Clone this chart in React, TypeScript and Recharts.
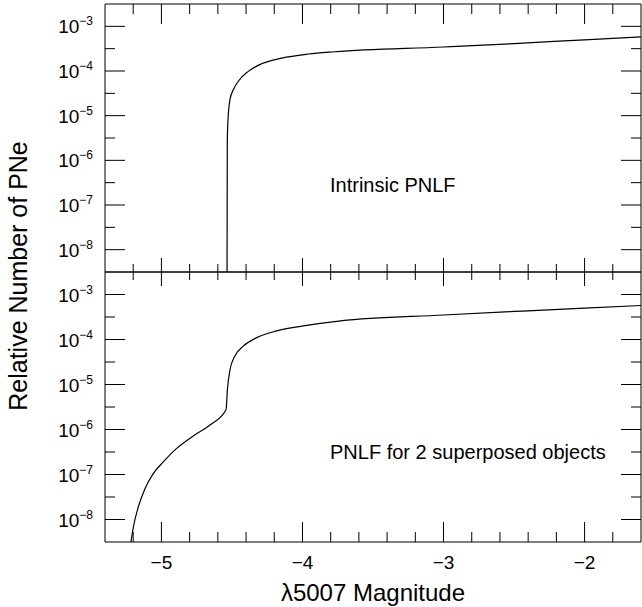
import React from "react";
import { LineChart, Line, XAxis, YAxis } from "recharts";

// values (magnitude, relative number)
const intrinsicMag = [-4.535, -4.533, -4.528, -4.514, -4.49, -4.455, -4.384, -4.29, -4.147, -3.958, -3.77, -3.0, -2.5, -2.0, -1.6];
const intrinsicN = [1e-9, 2.5e-6, 8.1e-6, 2.3e-5, 3.8e-5, 5.9e-5, 9.8e-5, 1.45e-4, 1.95e-4, 2.4e-4, 2.7e-4, 3.45e-4, 4.1e-4, 5.0e-4, 5.8e-4];

const superMag = [-5.225, -5.199, -5.164, -5.116, -5.058, -4.987, -4.892, -4.774, -4.656, -4.542, -4.532, -4.514, -4.479, -4.42, -4.325, -4.183, -3.994, -3.73, -3.0, -2.5, -2.0, -1.6];
const superN = [2e-9, 6.8e-9, 1.9e-8, 4.9e-8, 1.05e-7, 1.9e-7, 3.8e-7, 7.2e-7, 1.26e-6, 2.75e-6, 7.8e-6, 2.1e-5, 4.3e-5, 7.1e-5, 1.1e-4, 1.55e-4, 2.0e-4, 2.6e-4, 3.5e-4, 4.2e-4, 5.0e-4, 5.7e-4];

const xDomain = [-5.4, -1.6];
const xTicks = [-5.2, -5, -4.8, -4.6, -4.4, -4.2, -4, -3.8, -3.6, -3.4, -3.2, -3, -2.8, -2.6, -2.4, -2.2, -2, -1.8];
const yDomainExp = [-8.5, -2.5];
const yTickExp = [-8, -7.5, -7, -6.5, -6, -5.5, -5, -4.5, -4, -3.5, -3];

const FONT = "'Liberation Sans', Arial, Helvetica, sans-serif";
const yDomain = yDomainExp.map((e) => Math.pow(10, e));
const yTicks = yTickExp.map((e) => Math.pow(10, e));

const intrinsicData = intrinsicMag.map((m, i) => ({ m, v: intrinsicN[i] }));
const superData = superMag.map((m, i) => ({ m, v: superN[i] }));

const isMajorExp = (v: number) => {
  const l = Math.log10(v);
  return Math.abs(l - Math.round(l)) < 1e-6;
};

// tick mark drawn inward from the frame (axis gives x/y), plus optional label
function xTick(dir: number, major: number, minor: number, showLabel: boolean) {
  return (props: any) => {
    const x = Number(props.x);
    const y = Number(props.y);
    const v = props.payload.value;
    const big = Number.isInteger(v);
    const len = big ? major : minor;
    return (
      <g>
        <line x1={x} x2={x} y1={y} y2={y + dir * len} stroke="#000" strokeWidth={1} />
        {showLabel && big && (
          <text x={x} y={y + 27} textAnchor="middle" fontSize={19} fontFamily={FONT} fill="#000">
            {"\u2212" + Math.abs(v)}
          </text>
        )}
      </g>
    );
  };
}

function yTick(dir: number, showLabel: boolean) {
  return (props: any) => {
    const x = Number(props.x);
    const y = Number(props.y);
    const v = props.payload.value;
    const big = isMajorExp(v);
    const exp = Math.round(Math.log10(v));
    const len = big ? 20 : 10;
    return (
      <g>
        <line x1={x} x2={x + dir * len} y1={y} y2={y} stroke="#000" strokeWidth={1} />
        {showLabel && big && (
          <text x={x - 12} y={y + 7} textAnchor="end" fontSize={19} fontFamily={FONT} fill="#000">
            10
            <tspan dy={-8} fontSize={12}>
              {"\u2212" + Math.abs(exp)}
            </tspan>
          </text>
        )}
      </g>
    );
  };
}

function Panel({ data, height, margin, topTick, bottomTick, labels }: any) {
  return (
    <LineChart width={642} height={height} data={data} margin={margin}>
      <XAxis
        xAxisId="top"
        orientation="top"
        dataKey="m"
        type="number"
        domain={xDomain}
        allowDataOverflow
        ticks={xTicks}
        interval={0}
        height={1}
        tickSize={0}
        tickMargin={0}
        tickLine={false}
        axisLine={{ stroke: "#000" }}
        tick={xTick(1, topTick[0], topTick[1], false)}
      />
      <XAxis
        orientation="bottom"
        dataKey="m"
        type="number"
        domain={xDomain}
        allowDataOverflow
        ticks={xTicks}
        interval={0}
        height={1}
        tickSize={0}
        tickMargin={0}
        tickLine={false}
        axisLine={{ stroke: "#000" }}
        tick={xTick(-1, bottomTick[0], bottomTick[1], !!labels)}
      />
      <YAxis
        orientation="left"
        dataKey="v"
        type="number"
        scale="log"
        domain={yDomain}
        allowDataOverflow
        ticks={yTicks}
        interval={0}
        width={40}
        tickSize={0}
        tickMargin={0}
        tickLine={false}
        axisLine={{ stroke: "#000" }}
        tick={yTick(1, true)}
      />
      <YAxis
        yAxisId="r"
        orientation="right"
        type="number"
        scale="log"
        domain={yDomain}
        allowDataOverflow
        ticks={yTicks}
        interval={0}
        width={1}
        tickSize={0}
        tickMargin={0}
        tickLine={false}
        axisLine={{ stroke: "#000" }}
        tick={yTick(-1, false)}
      />
      <Line
        type="monotone"
        dataKey="v"
        stroke="#000"
        strokeWidth={1.2}
        dot={false}
        isAnimationActive={false}
      />
    </LineChart>
  );
}

export default function App() {
  return (
    <div style={{ position: "absolute", left: 0, top: 0, width: 642, height: 607, background: "#fff" }}>
      <div style={{ position: "absolute", left: 0, top: 0 }}>
        <Panel
          data={intrinsicData}
          height={273}
          margin={{ top: 3, right: 0, bottom: 0, left: 65 }}
          topTick={[20, 10]}
          bottomTick={[14, 8]}
        />
      </div>
      <div style={{ position: "absolute", left: 0, top: 271 }}>
        <Panel
          data={superData}
          height={336}
          margin={{ top: 0, right: 0, bottom: 64, left: 65 }}
          topTick={[14, 8]}
          bottomTick={[20, 10]}
          labels
        />
      </div>
      <svg
        width={642}
        height={607}
        style={{ position: "absolute", left: 0, top: 0, pointerEvents: "none" }}
        fontFamily={FONT}
      >
        <text x={330} y={192} fontSize={20} fill="#000">
          Intrinsic PNLF
        </text>
        <text x={330} y={459} fontSize={20} fill="#000">
          PNLF for 2 superposed objects
        </text>
        <text x={373} y={601} fontSize={24} textAnchor="middle" fill="#000">
          λ5007 Magnitude
        </text>
        <text x={27} y={276} fontSize={25} textAnchor="middle" fill="#000" transform="rotate(-90 27 276)">
          Relative Number of PNe
        </text>
      </svg>
    </div>
  );
}
